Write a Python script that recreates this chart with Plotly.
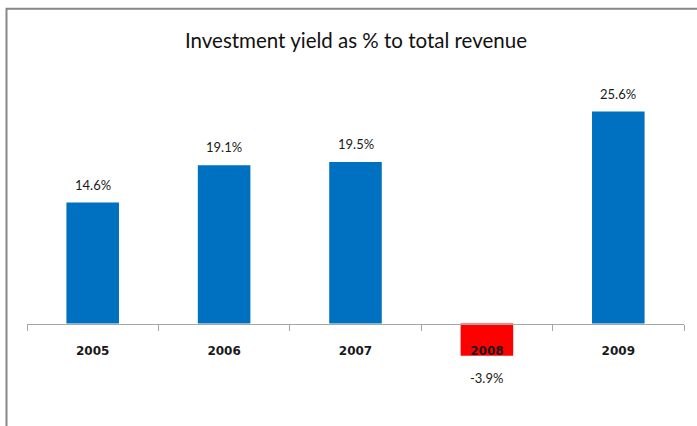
import plotly.graph_objects as go

# Investment yield as a share of total revenue, by year
years = ["2005", "2006", "2007", "2008", "2009"]
yield_pct = [14.6, 19.1, 19.5, -3.9, 25.6]

POS_COLOR = "#0070C0"
NEG_COLOR = "#FF0000"
bar_colors = [NEG_COLOR if v < 0 else POS_COLOR for v in yield_pct]
slots = list(range(len(years)))
boundaries = [i - 0.5 for i in range(len(years) + 1)]

W, H = 697, 426
M_L, M_R, M_T, M_B = 27, 13, 70, 26
plot_h = H - M_T - M_B
zero_px = 323.5            # vertical pixel of the zero line
px_per_unit = 8.28
y_max = (zero_px - M_T) / px_per_unit
y_min = -(H - M_B - zero_px) / px_per_unit

fig = go.Figure(
    go.Bar(
        x=slots,
        y=yield_pct,
        width=0.4,
        marker=dict(color=bar_colors, line=dict(width=0)),
        hoverinfo="skip",
    )
)

# value labels above positive bars, below negative ones
label_font = dict(family="Lato, Open Sans, sans-serif", size=13, color="#1a1a1a")
for xi, v in zip(slots, yield_pct):
    fig.add_annotation(
        x=xi, y=v, text=f"{v:.1f}%", showarrow=False,
        yshift=18 if v >= 0 else -22, font=label_font,
        xanchor="center", yanchor="middle",
    )

# outer frame (top and left edges visible)
plot_w = W - M_L - M_R
fig.add_shape(
    type="rect", xref="paper", yref="paper",
    x0=(6.5 - M_L) / plot_w, x1=1.2,
    y0=-0.3, y1=(H - M_B - 8.7) / plot_h,
    line=dict(color="#878787", width=2), fillcolor="rgba(0,0,0,0)",
)

fig.update_layout(
    width=W, height=H,
    margin=dict(l=M_L, r=M_R, t=M_T, b=M_B),
    paper_bgcolor="white", plot_bgcolor="white",
    showlegend=False,
    title=dict(
        text="Investment yield as % to total revenue",
        x=356 / W, xanchor="center", y=1 - 41 / H, yanchor="middle",
        font=dict(family="Lato, Open Sans, sans-serif", size=20.5, color="#111111"),
    ),
    xaxis=dict(
        range=[boundaries[0], boundaries[-1]],
        anchor="free",
        position=(H - M_B - zero_px) / plot_h,
        showline=True, linecolor="#a6a6a6", linewidth=1,
        tickmode="array", tickvals=slots, ticktext=years,
        ticks="outside", ticklen=0,
        ticklabelstandoff=16,
        minor=dict(tickmode="array", tickvals=boundaries, ticks="outside",
                   ticklen=6, tickcolor="#a6a6a6", tickwidth=1, showgrid=False),
        tickfont=dict(family="DejaVu Sans", size=12, color="#1a1a1a", weight="bold"),
        showgrid=False, zeroline=False,
    ),
    yaxis=dict(
        range=[y_min, y_max],
        visible=False, showgrid=False, zeroline=False,
    ),
)

fig.write_html("out.html")
